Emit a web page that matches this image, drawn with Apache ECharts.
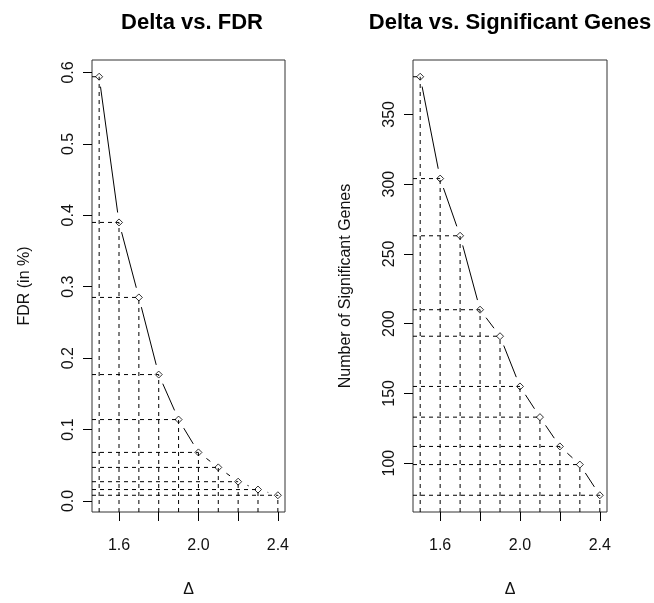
<!DOCTYPE html>
<html>
<head>
<meta charset="utf-8">
<script src="https://cdn.jsdelivr.net/npm/echarts@6/dist/echarts.min.js"></script>
<style>
html,body{margin:0;padding:0;background:#fff;}
#c{width:654px;height:603px;}
</style>
</head>
<body>
<div id="c"></div>
<script>
// ---- data ----
const delta = [1.5, 1.6, 1.7, 1.8, 1.9, 2.0, 2.1, 2.2, 2.3, 2.4];
const fdr = [0.594, 0.390, 0.285, 0.177, 0.114, 0.068, 0.047, 0.027, 0.016, 0.008];
const sigGenes = [377, 304, 263, 210, 191, 155, 133, 112, 99, 77];
const deltaTicks = [1.6, 1.8, 2.0, 2.2, 2.4];
const deltaLabels = [1.6, 2.0, 2.4];
const fdrTicks = [0.0, 0.1, 0.2, 0.3, 0.4, 0.5, 0.6];
const genesTicks = [100, 150, 200, 250, 300, 350];
const titles = ['Delta vs. FDR', 'Delta vs. Significant Genes'];
const yNames = ['FDR (in %)', 'Number of Significant Genes'];
const xName = '\u0394';

// R-style 4% axis padding
function padRange(arr) {
  const mn = Math.min(...arr), mx = Math.max(...arr), r = mx - mn;
  return [mn - 0.04 * r, mx + 0.04 * r];
}

const FONT = 'Liberation Sans';
const TXT = '#111';
const GAP = 10;

const xr = padRange(delta);
const yr = [padRange(fdr), padRange(sigGenes)];
const ys = [fdr, sigGenes];
const yTicks = [fdrTicks, genesTicks];
const yFmt = [v => v.toFixed(1), v => String(v)];

const grids = [
  {left: 92, right: 369, top: 60, bottom: 91},
  {left: 413, right: 47, top: 60, bottom: 91}
];

function xAxisFor(i) {
  return {
    type: 'value', gridIndex: i, min: xr[0], max: xr[1],
    name: xName, nameLocation: 'middle', nameGap: 70,
    nameTextStyle: {fontFamily: FONT, fontSize: 16, color: TXT},
    axisLine: {show: false, onZero: false},
    axisTick: {show: true, length: 9, customValues: deltaTicks, lineStyle: {color: '#000', width: 1}},
    axisLabel: {customValues: deltaLabels, margin: 26, fontFamily: FONT, fontSize: 16, color: TXT,
      formatter: v => v.toFixed(1)},
    splitLine: {show: false}
  };
}
function yAxisFor(i) {
  return {
    type: 'value', gridIndex: i, min: yr[i][0], max: yr[i][1],
    name: yNames[i], nameLocation: 'middle', nameGap: 59, nameRotate: 90,
    nameTextStyle: {fontFamily: FONT, fontSize: 16, color: TXT},
    axisLine: {show: false, onZero: false},
    axisTick: {show: true, length: 9, customValues: yTicks[i], lineStyle: {color: '#000', width: 1}},
    axisLabel: {customValues: yTicks[i], rotate: 90, margin: 15, fontFamily: FONT, fontSize: 16, color: TXT,
      formatter: yFmt[i]},
    splitLine: {show: false}
  };
}

function guideRender(params, api) {
  const p = api.coord([api.value(0), api.value(1)]);
  const cs = params.coordSys;
  const st = {stroke: '#000', lineWidth: 1, lineDash: [4, 4]};
  return {
    type: 'group',
    children: [
      {type: 'line', shape: {x1: p[0], y1: cs.y + cs.height, x2: p[0], y2: p[1]}, style: st},
      {type: 'line', shape: {x1: cs.x, y1: p[1], x2: p[0], y2: p[1]}, style: st}
    ]
  };
}
function segRender(params, api) {
  const a = api.coord([api.value(0), api.value(1)]);
  const b = api.coord([api.value(2), api.value(3)]);
  const dx = b[0] - a[0], dy = b[1] - a[1];
  const len = Math.sqrt(dx * dx + dy * dy);
  if (len <= 2 * GAP) return {type: 'group', children: []};
  const ux = dx / len, uy = dy / len;
  return {
    type: 'line',
    shape: {x1: a[0] + ux * GAP, y1: a[1] + uy * GAP, x2: b[0] - ux * GAP, y2: b[1] - uy * GAP},
    style: {stroke: '#000', lineWidth: 1}
  };
}

const series = [];
for (let i = 0; i < 2; i++) {
  const y = ys[i];
  const pts = delta.map((d, k) => [d, y[k]]);
  const segs = delta.slice(0, -1).map((d, k) => [d, y[k], delta[k + 1], y[k + 1]]);
  series.push({
    type: 'custom', xAxisIndex: i, yAxisIndex: i, renderItem: guideRender,
    data: pts, encode: {x: 0, y: 1}, silent: true, z: 1
  });
  series.push({
    type: 'custom', xAxisIndex: i, yAxisIndex: i, renderItem: segRender,
    data: segs, encode: {x: [0, 2], y: [1, 3]}, silent: true, z: 2
  });
  series.push({
    type: 'scatter', xAxisIndex: i, yAxisIndex: i, data: pts,
    symbol: 'diamond', symbolSize: 7,
    itemStyle: {color: 'rgba(0,0,0,0)', borderColor: '#000', borderWidth: 1},
    silent: true, z: 3
  });
}

const chart = echarts.init(document.getElementById('c'), null, {renderer: 'canvas'});
chart.setOption({
  animation: false,
  backgroundColor: '#fff',
  title: [
    {text: titles[0], left: 187, top: 7, textAlign: 'center',
      textStyle: {fontFamily: FONT, fontSize: 22, fontWeight: 'bold', color: '#000'}},
    {text: titles[1], left: 505, top: 7, textAlign: 'center',
      textStyle: {fontFamily: FONT, fontSize: 22, fontWeight: 'bold', color: '#000'}}
  ],
  grid: grids.map(g => Object.assign({show: true, borderColor: '#333', borderWidth: 1,
    backgroundColor: 'transparent', containLabel: false}, g)),
  xAxis: [xAxisFor(0), xAxisFor(1)],
  yAxis: [yAxisFor(0), yAxisFor(1)],
  series: series
});
</script>
</body>
</html>
